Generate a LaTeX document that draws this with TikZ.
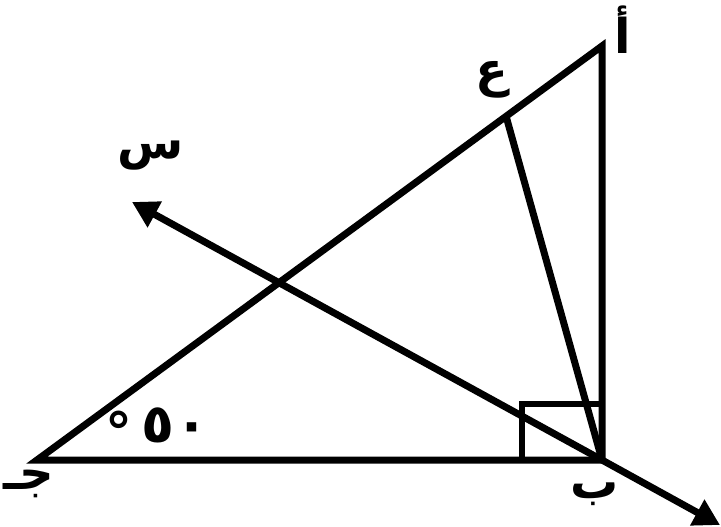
\documentclass[tikz,border=0pt]{standalone}
\usepackage{fontspec}
\newfontfamily\arabicfont[Script=Arabic]{DejaVu Sans}
\TeXXeTstate=1
\usetikzlibrary{arrows.meta}

\begin{document}
\begin{tikzpicture}[x=1pt,y=-1pt,
  edge/.style={line width=7pt, line join=miter},
  ray/.style={line width=7pt, {Triangle[length=26pt,width=28pt]}-{Triangle[length=26pt,width=28pt]}},
  lbl/.style={font=\fontsize{48}{54}\selectfont\arabicfont\bfseries, inner sep=0pt}]
\useasboundingbox (0,0) rectangle (721,527);
% Vertices
\coordinate (A) at (602,46);
\coordinate (B) at (602,460);
\coordinate (C) at (37,460);
\coordinate (E) at (506,116);
% Ray ends
\coordinate (S) at (132,202);
\coordinate (T) at (720,525);
% Triangle
\draw[edge] (A) -- (B) -- (C) -- cycle;
\draw[edge] (B) -- (E);
% Right angle mark
\draw[line width=6pt] (B) ++(-80,0) |- ++(80,-56);
% Line through B
\draw[ray] (S) -- (B) -- (T);
% Labels
\node[lbl] (lA) at (623,30) {\beginR أ\endR};
\node[lbl] (lB) at (595,494) {\beginR ب\endR};
\node[lbl] (lC) at (29,484) {\beginR جـ\endR};
\node[lbl] (lE) at (492,80) {\beginR ع\endR};
\node[lbl] (lS) at (151,156) {\beginR س\endR};
\node[lbl, font=\fontsize{54}{60}\selectfont\arabicfont\bfseries] (ang) at (157,430)
  {\raisebox{-9pt}{°}\hspace{9pt}٥\hspace{1pt}٠};
\end{tikzpicture}
\end{document}
